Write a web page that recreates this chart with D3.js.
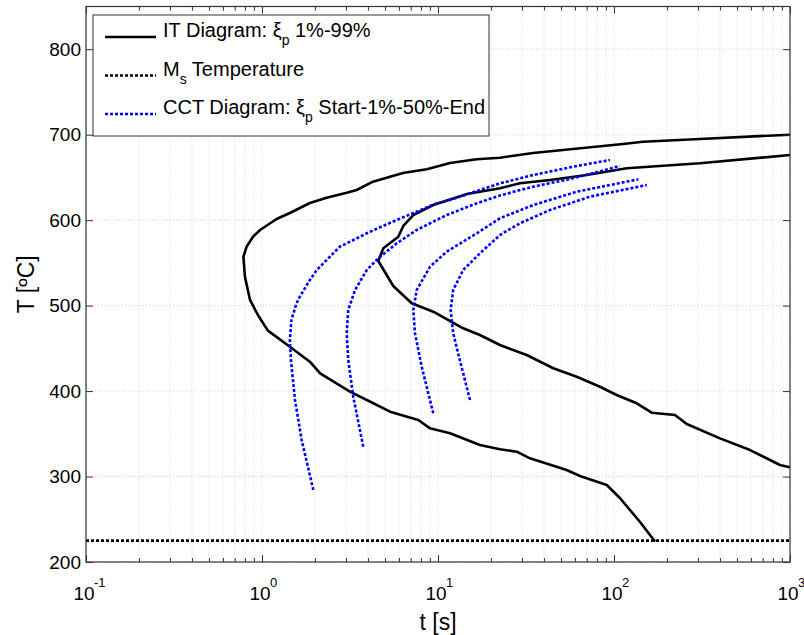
<!DOCTYPE html>
<html>
<head>
<meta charset="utf-8">
<script src="https://cdn.jsdelivr.net/npm/d3@7"></script>
<style>
  body { margin: 0; background: #fff; }
  svg { font-family: "Liberation Sans", Arial, Helvetica, sans-serif; }
</style>
</head>
<body>
<svg id="chart" width="804" height="635"></svg>
<script>
// ---------- data ----------
// IT diagram, 1% transformation (t [s], T [°C])
const it1_t = [1000, 308, 146, 112.5, 58.5, 34.7, 22.5, 16.6, 11.7, 8.63, 6.32, 4.27, 3.45, 3.03, 2.33, 1.87, 1.44, 1.21, 0.975, 0.889, 0.818, 0.784, 0.80, 0.855, 0.948, 1.08, 1.44, 1.87, 2.14, 3.16, 3.94, 5.34, 7.73, 9.01, 11.7, 17.3, 22.5, 28.0, 33.3, 53.8, 64.1, 91, 108, 140.6, 171];
const it1_T = [700, 695, 691.8, 689.1, 683.3, 678.6, 673.1, 671.2, 666.9, 659.5, 655.2, 645, 635.3, 632.1, 626.3, 620.1, 608.4, 601.4, 588.5, 580.6, 569, 557.2, 533.8, 506.6, 489, 470.7, 451.9, 434.4, 420.8, 399.3, 389.6, 375.9, 366.2, 356.4, 350.6, 336.9, 331.9, 329.1, 321.3, 307.7, 300.6, 290.1, 274.9, 246.8, 224];
// IT diagram, 99% transformation
const it99_t = [1000, 308, 118, 70, 43.3, 29.2, 22.5, 14.6, 9.4, 7.24, 6.35, 5.95, 4.89, 4.58, 5.57, 7.09, 9.4, 13.9, 17.3, 22.5, 31.9, 45.2, 61.4, 83.2, 103.5, 134.6, 163.7, 222, 259, 400, 593, 877, 1000];
const it99_T = [676.2, 666.5, 660.7, 652.8, 647, 643.1, 637.3, 630.6, 617.7, 606, 593.2, 580.6, 567.1, 552.2, 523, 502.7, 492.9, 473.5, 465.6, 453.9, 442.2, 426.7, 416.8, 405.1, 395.4, 385.7, 374.7, 372, 361.5, 344.7, 331, 313.5, 310.8];
// CCT diagram curves: Start, 1%, 50%, End
const cctStart_t = [1.957, 1.68, 1.54, 1.46, 1.44, 1.47, 1.57, 1.64, 1.87, 2.05, 2.33, 2.77, 3.03, 4.11, 5.83, 9.83, 11.7, 22.5, 34.8, 58.7, 94.9];
const cctStart_T = [284.2, 342.8, 389.6, 436.4, 459.8, 483.2, 502.7, 510.4, 530, 541.7, 553.4, 569, 572.9, 586.5, 600.2, 619.7, 623.6, 643.1, 652.8, 662.6, 670.4];
const cct1_t = [3.76, 3.30, 3.09, 3.03, 3.09, 3.38, 3.94, 4.58, 5.83, 7.57, 11.2, 16.6, 22.5, 34.8, 58.7, 108];
const cct1_T = [334.9, 393.4, 436.4, 467.6, 494.9, 518.3, 541.7, 555.4, 572.9, 588.5, 606, 619.7, 628.9, 639.2, 649, 663.4];
const cct50_t = [9.4, 8.08, 7.40, 7.24, 7.57, 9.01, 11.2, 16.6, 22.5, 34.8, 61.4, 94.9, 137.4];
const cct50_T = [374, 428.5, 467.6, 494.9, 518.3, 545.5, 563.1, 584.6, 602.2, 617.7, 633.3, 641.1, 647.8];
const cctEnd_t = [15.2, 13.3, 12.2, 11.8, 12.2, 13.9, 17.3, 22.5, 29.2, 43.3, 73.1, 153.5];
const cctEnd_T = [389.6, 436.4, 467.6, 494.9, 518.3, 541.7, 561.2, 582.6, 596.3, 611.9, 627.5, 641.1];
// Martensite start temperature
const ms_t = [0.1, 1000];
const ms_T = [225, 225];

const xDomain = [0.1, 1000];
const yDomain = [200, 850];
const yTicks = [200, 300, 400, 500, 600, 700, 800];
const xMajor = [0.1, 1, 10, 100, 1000];
const xExp = ["-1", "0", "1", "2", "3"];
const legendLabels = [
  {pre: "IT Diagram: ξ", sub: "p", post: " 1%-99%"},
  {pre: "M", sub: "s", post: " Temperature"},
  {pre: "CCT Diagram: ξ", sub: "p", post: " Start-1%-50%-End"}
];

// ---------- layout ----------
const L = 86, R = 790, T = 6.5, B = 562;
const svg = d3.select("#chart");
const x = d3.scaleLog().domain(xDomain).range([L, R]);
const y = d3.scaleLinear().domain(yDomain).range([B, T]);

const xMinor = [];
for (let d = 0.1; d < 1000; d *= 10) for (let k = 2; k <= 9; k++) xMinor.push(+(d * k).toPrecision(3));

// grid
const grid = svg.append("g").attr("stroke", "#c8c8c8").attr("stroke-width", 0.8).attr("stroke-dasharray", "1,2").attr("fill", "none");
grid.selectAll("line.vx").data(xMajor.concat(xMinor)).join("line")
  .attr("x1", d => x(d)).attr("x2", d => x(d)).attr("y1", T).attr("y2", B);
grid.selectAll("line.hy").data(yTicks).join("line")
  .attr("y1", d => y(d)).attr("y2", d => y(d)).attr("x1", L).attr("x2", R);

// curves
const line = d3.line().x(d => x(d[0])).y(d => y(d[1]));
const zip = (a, b) => a.map((v, i) => [v, b[i]]);
const plot = svg.append("g").attr("fill", "none");
svg.append("clipPath").attr("id", "clip").append("rect").attr("x", L).attr("y", T).attr("width", R - L).attr("height", B - T);
plot.attr("clip-path", "url(#clip)");

[[it1_t, it1_T], [it99_t, it99_T]].forEach(([a, b]) => {
  plot.append("path").attr("d", line(zip(a, b))).attr("stroke", "#000").attr("stroke-width", 2.6).attr("stroke-linejoin", "round");
});
plot.append("path").attr("d", line(zip(ms_t, ms_T))).attr("stroke", "#000").attr("stroke-width", 2.6).attr("stroke-dasharray", "3,2");
[[cctStart_t, cctStart_T], [cct1_t, cct1_T], [cct50_t, cct50_T], [cctEnd_t, cctEnd_T]].forEach(([a, b]) => {
  plot.append("path").attr("d", line(zip(a, b))).attr("stroke", "#0000ff").attr("stroke-width", 2.6).attr("stroke-dasharray", "3,2");
});

// axes (ticks inside, box)
const axisColor = "#333";
function styleAxis(g) {
  g.select(".domain").remove();
  g.selectAll(".tick line").attr("stroke", axisColor);
}
svg.append("g").attr("transform", `translate(0,${B})`)
  .call(d3.axisBottom(x).tickValues(xMajor).tickSize(-7).tickFormat(""))
  .call(styleAxis);
svg.append("g").attr("transform", `translate(0,${B})`)
  .call(d3.axisBottom(x).tickValues(xMinor).tickSize(-4).tickFormat(""))
  .call(styleAxis);
svg.append("g").attr("transform", `translate(0,${T})`)
  .call(d3.axisTop(x).tickValues(xMajor).tickSize(-7).tickFormat(""))
  .call(styleAxis);
svg.append("g").attr("transform", `translate(0,${T})`)
  .call(d3.axisTop(x).tickValues(xMinor).tickSize(-4).tickFormat(""))
  .call(styleAxis);
const gy = svg.append("g").attr("transform", `translate(${L},0)`)
  .call(d3.axisLeft(y).tickValues(yTicks).tickSize(-7).tickPadding(6).tickFormat(d3.format("d")))
  .call(styleAxis);
gy.selectAll(".tick text").attr("font-size", 19).attr("fill", "#000").attr("font-family", null).attr("x", -5);
svg.append("g").attr("transform", `translate(${R},0)`)
  .call(d3.axisRight(y).tickValues(yTicks).tickSize(-7).tickFormat(""))
  .call(styleAxis);
svg.append("rect").attr("x", L).attr("y", T).attr("width", R - L).attr("height", B - T)
  .attr("fill", "none").attr("stroke", axisColor).attr("stroke-width", 1.2);

// x tick labels 10^n
const xl = svg.append("g");
xMajor.forEach((v, i) => {
  xl.append("text").attr("x", x(v) - 2).attr("y", 600).attr("text-anchor", "middle")
    .attr("font-size", 19).text("10");
  xl.append("text").attr("x", x(v) + 8).attr("y", 587).attr("text-anchor", "start")
    .attr("font-size", 13).text(xExp[i]);
});

// axis titles
svg.append("text").attr("x", (L + R) / 2).attr("y", 630).attr("text-anchor", "middle")
  .attr("font-size", 23).text("t [s]");
svg.append("text").attr("transform", `translate(34,${(T + B) / 2}) rotate(-90)`).attr("text-anchor", "middle")
  .attr("font-size", 23).text("T [ºC]");

// legend
const lg = svg.append("g");
lg.append("rect").attr("x", 93).attr("y", 15).attr("width", 396).attr("height", 121)
  .attr("fill", "#fff").attr("stroke", "#333").attr("stroke-width", 1);
const legStyles = [
  {color: "#000", dash: null},
  {color: "#000", dash: "3,2"},
  {color: "#0000ff", dash: "3,2"}
];
legendLabels.forEach((lab, i) => {
  const ly = 37 + i * 38.5;
  lg.append("line").attr("x1", 105).attr("x2", 156).attr("y1", ly).attr("y2", ly)
    .attr("stroke", legStyles[i].color).attr("stroke-width", 2.6)
    .attr("stroke-dasharray", legStyles[i].dash);
  const t = lg.append("text").attr("x", 163).attr("y", ly).attr("font-size", 20);
  t.append("tspan").text(lab.pre);
  t.append("tspan").attr("dy", 8).attr("font-size", 14).text(lab.sub);
  t.append("tspan").attr("dy", -8).text(lab.post);
});
</script>
</body>
</html>
